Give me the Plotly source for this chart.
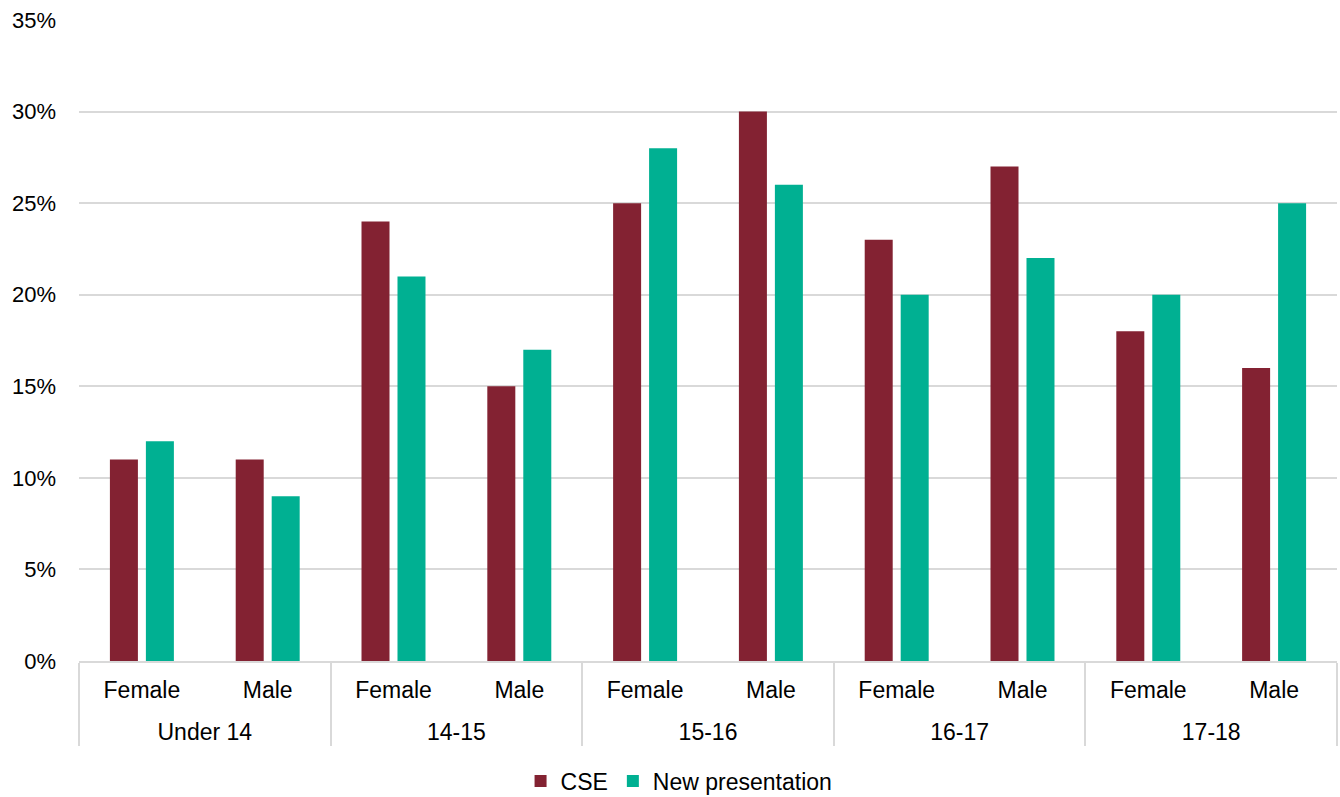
import plotly.graph_objects as go

age_groups = ["Under 14", "Under 14", "14-15", "14-15", "15-16", "15-16",
              "16-17", "16-17", "17-18", "17-18"]
sexes = ["Female", "Male"] * 5
cse = [11, 11, 24, 15, 25, 30, 23, 27, 18, 16]
new_presentation = [12, 9, 21, 17, 28, 26, 20, 22, 20, 25]
y_ticks = [0, 5, 10, 15, 20, 25, 30, 35]

LABEL_PX = 23


def big(s):
    return f'<span style="font-size:{LABEL_PX}px">{s}</span>'


# outer-level labels get a leading blank line so they sit below the inner level
outer = ["<br>" + big(g) for g in age_groups]
inner = [big(s) for s in sexes]

fig = go.Figure()
fig.add_trace(go.Bar(x=[outer, inner], y=cse, name="CSE",
                     marker=dict(color="#832232", line=dict(width=0))))
fig.add_trace(go.Bar(x=[outer, inner], y=new_presentation, name="New presentation",
                     marker=dict(color="#00B092", line=dict(width=0))))

family = "Liberation Sans, Arial, sans-serif"
xfont = dict(family=family, size=LABEL_PX, color="#000000")
tickbase = dict(family=family, size=19.5, color="#000000")
yfont = dict(family=family, size=22, color="#000000")

fig.update_layout(
    width=1340, height=797,
    margin=dict(l=79, r=3, t=20, b=136),
    plot_bgcolor="white", paper_bgcolor="white",
    barmode="group", bargap=0.428, bargroupgap=0.222,
    font=xfont,
    showlegend=True,
    legend=dict(orientation="h", x=0.477, xanchor="center",
                yref="container", y=16 / 797, yanchor="middle",
                font=xfont, itemwidth=30, traceorder="normal"),
)
fig.update_xaxes(
    type="multicategory", showline=True, linecolor="#d9d9d9", linewidth=2,
    showdividers=True, dividercolor="#d9d9d9", dividerwidth=2,
    ticks="", tickfont=tickbase, automargin=False, ticklabelstandoff=12,
)
fig.update_yaxes(
    range=[0, 35], tickvals=y_ticks, ticktext=[f"{v}%" for v in y_ticks],
    showgrid=True, gridcolor="#d9d9d9", gridwidth=2, zeroline=False,
    showline=False, ticks="", tickfont=yfont, ticklabelstandoff=22,
    automargin=False,
)

fig.write_html("out.html")
